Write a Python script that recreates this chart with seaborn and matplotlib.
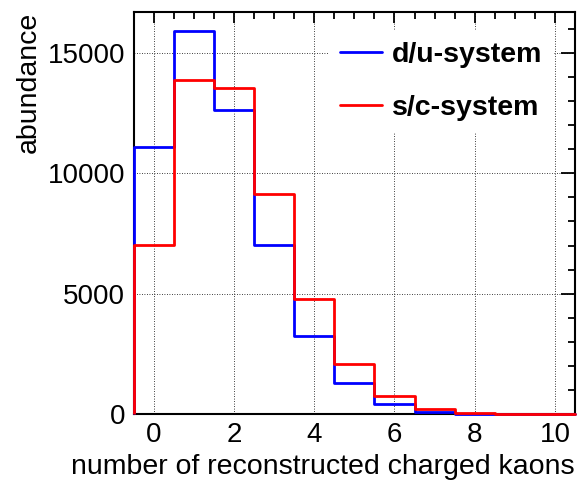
import numpy as np
import pandas as pd
import matplotlib
matplotlib.use("Agg")
import matplotlib.pyplot as plt
from matplotlib.ticker import MultipleLocator
import seaborn as sns

# Number of reconstructed charged kaons per event (bin centres)
kaons = [0, 1, 2, 3, 4, 5, 6, 7, 8, 9, 10]
du_counts = [11100, 15900, 12650, 7020, 3250, 1280, 430, 75, 15, 4, 1]
sc_counts = [7020, 13870, 13550, 9150, 4770, 2070, 740, 210, 45, 8, 2]
systems = ["d/u-system", "s/c-system"]
colors = {"d/u-system": "#0000ff", "s/c-system": "#ff0000"}

df = pd.DataFrame({
    "kaons": kaons * 2,
    "count": du_counts + sc_counts,
    "system": [systems[0]] * len(kaons) + [systems[1]] * len(kaons),
})

sns.set_theme(style="white")
plt.rcParams["font.family"] = ["Liberation Sans", "DejaVu Sans"]
plt.rcParams["text.color"] = "black"
plt.rcParams["axes.labelcolor"] = "black"

fig = plt.figure(figsize=(5.78, 4.87), dpi=100)
ax = fig.add_axes([0.231, 0.150, 0.764, 0.825])

ax.grid(True, which="major", color="black", linestyle=(0, (1, 2)), linewidth=0.6)
ax.set_axisbelow(True)

lw = 2.0
for name in systems:
    sub = df[df["system"] == name]
    sns.histplot(data=sub, x="kaons", weights="count", discrete=True,
                 element="step", fill=False, color=colors[name],
                 linewidth=lw, ax=ax, label=name)
    # close the outline down to zero at the outer bin edges
    first, last = sub.iloc[0], sub.iloc[-1]
    ax.vlines([first["kaons"] - 0.5], 0, first["count"], color=colors[name],
              linewidth=lw, zorder=3, clip_on=False)
    ax.vlines([last["kaons"] + 0.5], 0, last["count"], color=colors[name],
              linewidth=lw, zorder=3, clip_on=False)

# histogram outlines sit on top of the frame
for line in ax.get_lines():
    line.set_zorder(3)
    line.set_clip_on(False)

ax.set_xlim(-0.5, 10.5)
ax.set_ylim(0, 16700)
ax.xaxis.set_major_locator(MultipleLocator(2))
ax.xaxis.set_minor_locator(MultipleLocator(0.5))
ax.yaxis.set_major_locator(MultipleLocator(5000))
ax.yaxis.set_minor_locator(MultipleLocator(1000))
ax.tick_params(which="both", direction="in", top=True, right=True,
               labelsize=20, colors="black", width=1.3)
ax.tick_params(axis="y", which="major", length=10, pad=6)
ax.tick_params(axis="y", which="minor", length=5)
ax.tick_params(axis="x", which="major", length=8, pad=6)
ax.tick_params(axis="x", which="minor", length=5)
for sp in ax.spines.values():
    sp.set_color("black")
    sp.set_linewidth(1.5)

ax.set_xlabel("number of reconstructed charged kaons", fontsize=20.5, loc="right")
ax.set_ylabel("abundance", fontsize=20.5, loc="top")

leg = ax.legend(loc="upper right", bbox_to_anchor=(0.983, 0.99), frameon=True,
                fancybox=False, edgecolor="none", facecolor="white", framealpha=1,
                prop={"weight": "bold", "size": 20.5}, handlelength=1.45,
                handletextpad=0.35, labelspacing=0.95, borderpad=0.4)
leg.set_zorder(4)
for line in leg.get_lines():
    line.set_linewidth(lw)

fig.savefig("out.png", dpi=100)
